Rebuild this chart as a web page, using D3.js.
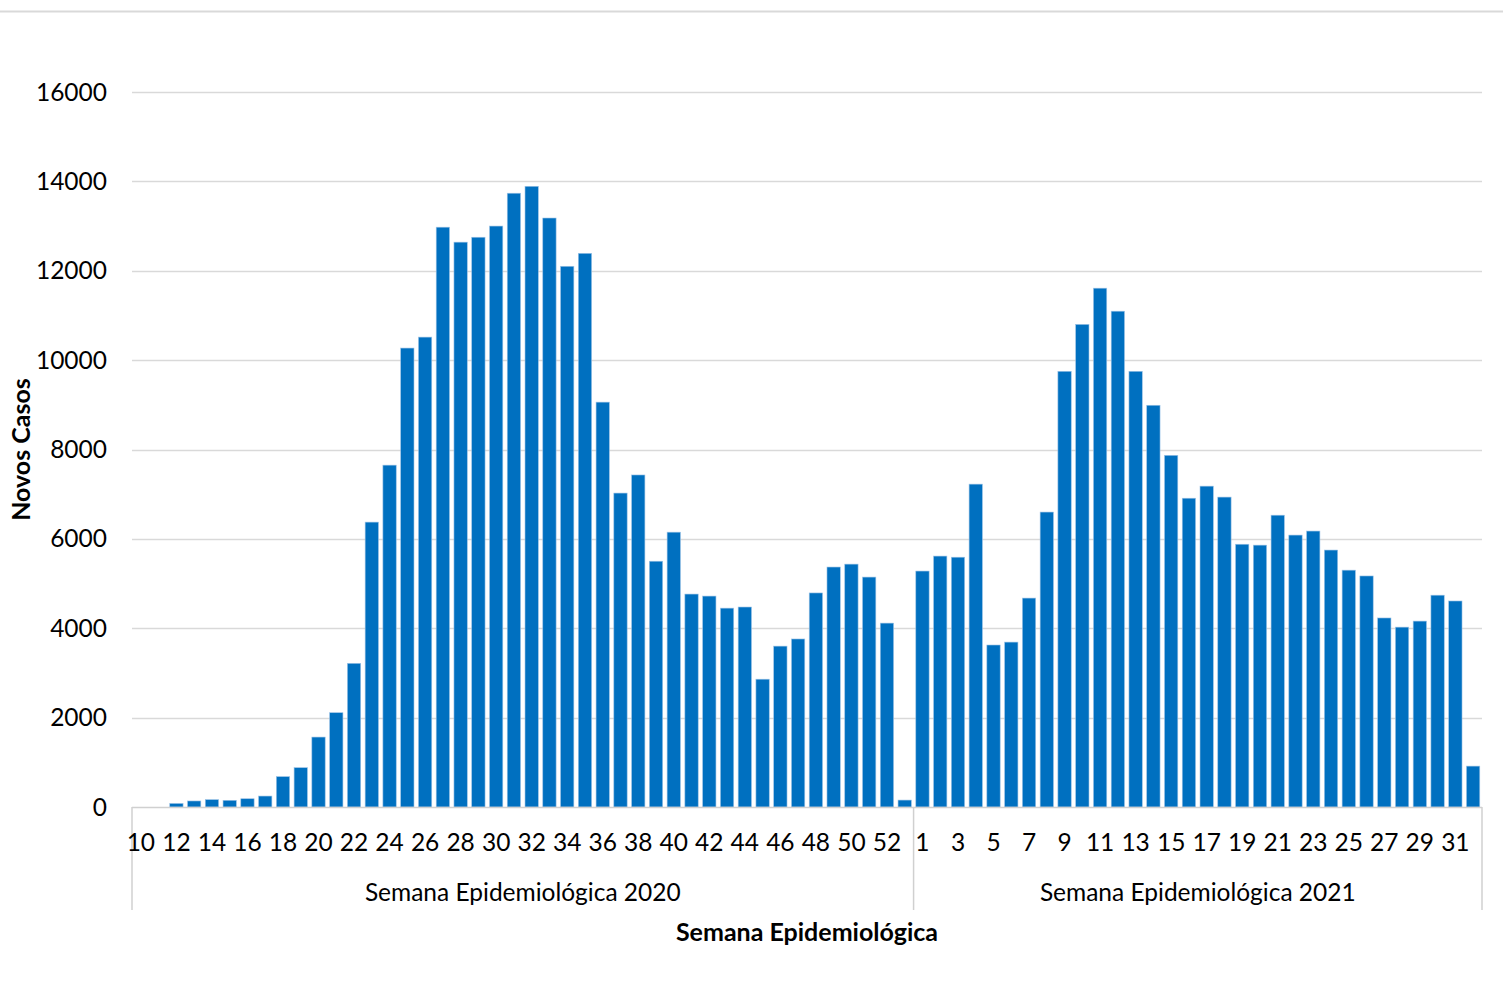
<!DOCTYPE html>
<html>
<head>
  <meta charset="utf-8">
  <style>
body { margin: 0; background: #fff; }
svg { font-family: Lato, "Open Sans", sans-serif; }
  </style>
</head>
<body>
  <svg id="chart" width="1503" height="982"></svg>
  <script src="https://cdn.jsdelivr.net/npm/d3@7"></script>
  <script>
// Weeks and new cases per week
var weeks2020 = d3.range(10, 54);
var cases2020 = [0, 0, 80, 135, 165, 150, 185, 245, 680, 880,
  1565, 2110, 3215, 6375, 7650, 10270, 10515, 12975, 12640, 12750,
  13000, 13735, 13890, 13180, 12100, 12390, 9060, 7025, 7430, 5500,
  6150, 4765, 4720, 4450, 4475, 2860, 3600, 3760, 4790, 5370,
  5435, 5145, 4115, 155];
var weeks2021 = d3.range(1, 33);
var cases2021 = [5280, 5615, 5590, 7225, 3625, 3690, 4675, 6600, 9750, 10800,
  11610, 11095, 9750, 8990, 7870, 6910, 7180, 6935, 5880, 5860,
  6530, 6085, 6175, 5750, 5300, 5170, 4230, 4025, 4160, 4740,
  4610, 915];
var groups = ["Semana Epidemiológica 2020", "Semana Epidemiológica 2021"];
var yTicks = [0, 2000, 4000, 6000, 8000, 10000, 12000, 14000, 16000];

var data = weeks2020.map(function(w, i) { return {key: "2020-" + w, week: w, value: cases2020[i], g: 0}; })
  .concat(weeks2021.map(function(w, i) { return {key: "2021-" + w, week: w, value: cases2021[i], g: 1}; }));

var svg = d3.select("#chart"),
    plotLeft = 132, plotRight = 1482, plotTop = 92, plotBottom = 807,
    fontSize = 24.5;

var x = d3.scaleBand()
    .domain(data.map(function(d) { return d.key; }))
    .range([plotLeft, plotRight])
    .paddingInner(0.25)
    .paddingOuter(0.125);

var y = d3.scaleLinear().domain([0, 16000]).range([plotBottom, plotTop]);

// top border line
svg.append("line")
    .attr("x1", 0).attr("x2", 1503)
    .attr("y1", 11.5).attr("y2", 11.5)
    .attr("stroke", "#d9d9d9").attr("stroke-width", 2);

// gridlines
svg.append("g").selectAll("line")
  .data(yTicks.slice(1))
  .enter().append("line")
    .attr("x1", plotLeft).attr("x2", plotRight)
    .attr("y1", function(d) { return Math.round(y(d)) + 0.5; })
    .attr("y2", function(d) { return Math.round(y(d)) + 0.5; })
    .attr("stroke", "#d9d9d9").attr("stroke-width", 1.5);

// y tick labels
svg.append("g").selectAll("text")
  .data(yTicks)
  .enter().append("text")
    .attr("x", 107)
    .attr("y", function(d) { return y(d); })
    .attr("dy", "0.35em")
    .attr("text-anchor", "end")
    .attr("font-size", fontSize)
    .attr("fill", "#000")
    .text(function(d) { return d; });

// bars
svg.append("g").selectAll("rect")
  .data(data)
  .enter().append("rect")
    .attr("x", function(d) { return x(d.key); })
    .attr("width", x.bandwidth())
    .attr("y", function(d) { return y(d.value); })
    .attr("height", function(d) { return plotBottom - y(d.value); })
    .attr("fill", "#0070c0")
    .attr("stroke", "#9dc3e6")
    .attr("stroke-width", 0.6);

// category axis
var step = x.step();
var split = plotLeft + weeks2020.length * step;
var axis = svg.append("g").attr("stroke", "#d0d0d0").attr("stroke-width", 1.5);
axis.append("line").attr("x1", plotLeft).attr("x2", plotRight).attr("y1", plotBottom + 0.5).attr("y2", plotBottom + 0.5);
[plotLeft, split, plotRight].forEach(function(xx) {
  axis.append("line").attr("x1", xx).attr("x2", xx).attr("y1", plotBottom).attr("y2", 910);
});

// week labels (every other week)
svg.append("g").selectAll("text")
  .data(data.filter(function(d, i) { return i % 2 === 0; }))
  .enter().append("text")
    .attr("x", function(d) { return x(d.key) + x.bandwidth() / 2; })
    .attr("y", 842)
    .attr("dy", "0.35em")
    .attr("text-anchor", "middle")
    .attr("font-size", fontSize)
    .text(function(d) { return d.week; });

// group labels
svg.append("g").selectAll("text")
  .data(groups)
  .enter().append("text")
    .attr("x", function(d, i) { return i === 0 ? (plotLeft + split) / 2 : (split + plotRight) / 2; })
    .attr("y", 892)
    .attr("dy", "0.35em")
    .attr("text-anchor", "middle")
    .attr("font-size", fontSize)
    .text(function(d) { return d; });

// axis titles
svg.append("text")
    .attr("x", (plotLeft + plotRight) / 2)
    .attr("y", 932)
    .attr("dy", "0.35em")
    .attr("text-anchor", "middle")
    .attr("font-size", 25)
    .attr("font-weight", "bold")
    .text("Semana Epidemiológica");

svg.append("text")
    .attr("transform", "translate(21," + (plotTop + plotBottom) / 2 + ") rotate(-90)")
    .attr("dy", "0.35em")
    .attr("text-anchor", "middle")
    .attr("font-size", 25)
    .attr("font-weight", "bold")
    .text("Novos Casos");
  </script>
</body>
</html>
